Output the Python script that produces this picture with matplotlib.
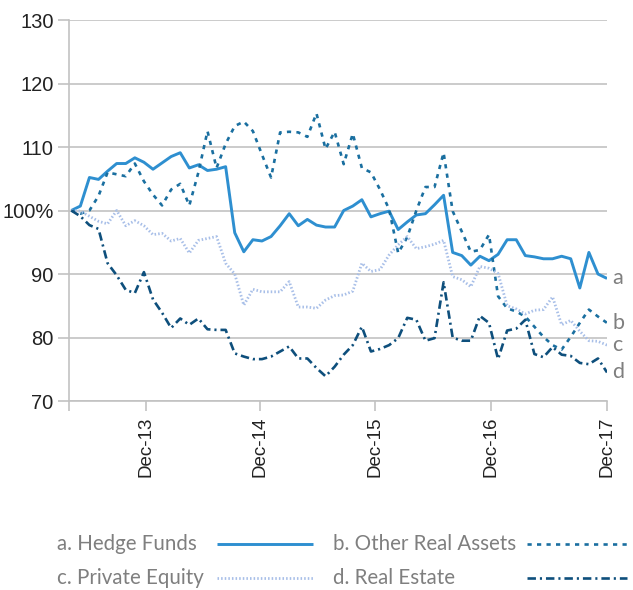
import numpy as np
import matplotlib
matplotlib.use('Agg')
import matplotlib.pyplot as plt
from matplotlib.lines import Line2D

# Indexed to 100, roughly monthly points
hedge_funds = [100, 100.7, 105.2, 104.9, 106.2, 107.4, 107.4, 108.3, 107.6, 106.5,
               107.5, 108.5, 109.1, 106.7, 107.2, 106.3, 106.5, 106.9, 96.5, 93.5,
               95.4, 95.2, 95.9, 97.6, 99.5, 97.6, 98.6, 97.7, 97.4, 97.4,
               100, 100.7, 101.7, 99, 99.5, 99.9, 97, 98.2, 99.3, 99.5,
               100.9, 102.4, 93.4, 92.9, 91.4, 92.8, 92.1, 93.1, 95.4, 95.4,
               92.9, 92.7, 92.4, 92.4, 92.8, 92.4, 87.8, 93.4, 90, 89.3]
other_real = [100, 99.5, 100, 102.3, 106, 105.7, 105.4, 107.4, 104.6, 102.5,
              100.8, 103.3, 104.2, 100.8, 106, 112.5, 106.7, 110.5, 113.3, 114,
              112.5, 108.8, 105.2, 112.3, 112.4, 112.3, 111.6, 115.3, 109.7, 112.4,
              107.3, 112.1, 106.7, 106, 103.3, 100.2, 93.3, 95.8, 100, 103.7,
              103.7, 109.1, 99.9, 96.7, 93.5, 93.8, 96.2, 86.5, 84.6, 84.1,
              83.3, 81.7, 80.1, 78.8, 78.1, 80.1, 82.3, 84.4, 83.3, 82.3]
private_eq = [100, 99.9, 99.1, 98.3, 97.9, 100, 97.6, 98.4, 97.6, 96.2,
              96.4, 95.2, 95.6, 93.3, 95.3, 95.6, 95.9, 91.7, 90, 85.1,
              87.6, 87.2, 87.2, 87.2, 88.8, 84.8, 84.8, 84.6, 85.9, 86.6,
              86.7, 87.3, 91.7, 90.4, 90.7, 93, 94.6, 95.9, 94, 94.3,
              94.7, 95.3, 89.6, 89.1, 88, 91.2, 90.9, 90.1, 85, 84.5,
              83.7, 84.3, 84.4, 86.4, 82, 82.7, 81, 79.5, 79.4, 78.8]
real_estate = [100, 99.1, 97.7, 97.1, 91.7, 89.8, 87.5, 87, 90.3, 86,
               83.9, 81.5, 83, 82, 83, 81.3, 81.2, 81.2, 77.5, 77,
               76.6, 76.6, 77, 77.8, 78.6, 76.7, 76.7, 75.2, 73.9, 75.4,
               77.3, 78.8, 81.7, 77.8, 78.2, 78.8, 79.9, 83.1, 82.8, 79.5,
               79.9, 88.7, 80, 79.5, 79.5, 83.4, 82.3, 76.6, 81.1, 81.4,
               82.8, 77.4, 76.9, 78.5, 77.3, 77.1, 76, 75.8, 76.7, 74.5]

labels = ['a. Hedge Funds', 'b. Other Real Assets', 'c. Private Equity', 'd. Real Estate']
short = ['a', 'b', 'c', 'd']
tick_pos = [8.2, 20.8, 33.5, 46.2, 59]
tick_labels = ['Dec-13', 'Dec-14', 'Dec-15', 'Dec-16', 'Dec-17']
yticks = [70, 80, 90, 100, 110, 120, 130]
ytick_labels = ['70', '80', '90', '100%', '110', '120', '130']

colors = ['#2e8fd0', '#1a6fa0', '#a8bfe8', '#0e4f7c']
styles = [(0, ()), (0, (1.6, 2.0)), (0, (0.55, 0.75)), (0, (3.2, 1.5, 0.8, 1.5))]
widths = [2.1, 1.9, 2.0, 1.9]

grid_c = '#c2c2c2'
label_c = '#7f7f7f'

fig = plt.figure(figsize=(6.33, 5.9), dpi=100)
ax = fig.add_axes([0.109, 0.3203, 0.850, 0.6458])

series = [hedge_funds, other_real, private_eq, real_estate]
x = np.arange(len(hedge_funds))
for vals, c, ls, lw, s in zip(series, colors, styles, widths, short):
    ax.plot(x, vals, color=c, linestyle=ls, linewidth=lw, solid_joinstyle='miter')
    ax.annotate(s, (x[-1], vals[-1]), xytext=(4, 0), textcoords='offset points',
                va='center', ha='left', fontsize=15.5, color=label_c,
                family='Lato', annotation_clip=False)

ax.set_xlim(-0.25, 59)
ax.set_ylim(70, 130)
ax.set_yticks(yticks)
ax.set_yticklabels(ytick_labels)
ax.set_xticks([-0.25] + tick_pos)
ax.set_xticklabels([''] + tick_labels, rotation=90)
ax.yaxis.grid(True, color=grid_c, linewidth=1.2)
ax.set_axisbelow(True)
for sp in ['top', 'right']:
    ax.spines[sp].set_visible(False)
for sp in ['left', 'bottom']:
    ax.spines[sp].set_color(grid_c)
    ax.spines[sp].set_linewidth(1.2)
ax.tick_params(axis='y', length=8, width=1.2, color=grid_c, pad=3,
               labelsize=14.5, labelcolor='#222222')
ax.tick_params(axis='x', length=7.5, width=1.2, color=grid_c, pad=4,
               labelsize=13.5, labelcolor='#222222')
for t in ax.get_xticklabels() + ax.get_yticklabels():
    t.set_family('Liberation Sans')

# legend: text first, line sample after
col_text = [0.090, 0.526]
col_line = [(0.343, 0.495), (0.833, 0.991)]
rows = [1 - 544 / 590, 1 - 578 / 590]
for i, (lab, c, ls, lw) in enumerate(zip(labels, colors, styles, widths)):
    col, row = i % 2, i // 2
    fig.text(col_text[col], rows[row], lab, fontsize=14.8, color=label_c,
             family='Lato', va='center', ha='left')
    fig.add_artist(Line2D(col_line[col], [rows[row], rows[row]], color=c,
                          linestyle=ls, linewidth=lw, transform=fig.transFigure))

fig.savefig('out.png', dpi=100)
